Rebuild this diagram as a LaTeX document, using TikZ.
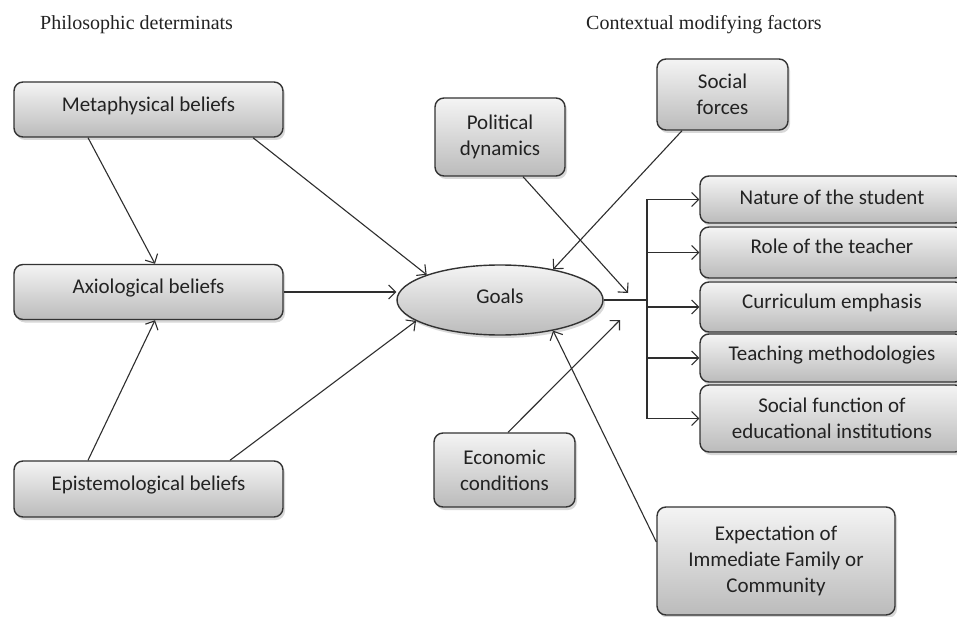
\documentclass[tikz,border=0pt]{standalone}
\usepackage{fontspec}
\setmainfont{Carlito}
\newfontfamily\hdrfont{Liberation Serif}
\usetikzlibrary{shapes.geometric,shadows,arrows.meta}
\definecolor{boxline}{HTML}{333333}
\definecolor{boxtop}{HTML}{F4F4F4}
\definecolor{boxbot}{HTML}{BBBBBB}
\definecolor{txt}{HTML}{222222}
\definecolor{conn}{HTML}{2E2E2E}
\begin{document}
\begin{tikzpicture}[x=1pt,y=-1pt,
  box/.style={draw=boxline, line width=1.4pt, rounded corners=9pt,
    top color=boxtop, bottom color=boxbot,
    drop shadow={shadow xshift=2pt, shadow yshift=-3pt, fill=black!30},
    align=center, inner sep=2pt, text=txt,
    font=\fontsize{21}{26}\selectfont},
  goalsty/.style={ellipse, draw=boxline, line width=1.4pt,
    top color=boxtop, bottom color=boxbot,
    drop shadow={shadow xshift=2pt, shadow yshift=-3pt, fill=black!30},
    inner sep=0pt, text=txt, font=\fontsize{21}{26}\selectfont},
  hdr/.style={font=\hdrfont\fontsize{20}{24}\selectfont, text=txt, inner sep=0pt, anchor=west},
  conn/.style={draw=conn, line width=1.1pt},
  arr/.style={conn, -{Straight Barb[length=7pt,width=14pt,line width=1.1pt]}}
]
\clip (0,0) rectangle (957,617);
\fill[white] (0,0) rectangle (957,617);

% headers
\node[hdr] (h1) at (40,25) {Philosophic determinats};
\node[hdr] (h2) at (586,25) {Contextual modifying factors};

% left column
\node[box, minimum width=269pt, minimum height=55pt] (meta) at (148.5,109.5) {\raisebox{11pt}{Metaphysical beliefs}};
\node[box, minimum width=269pt, minimum height=55pt] (axio) at (148.5,292) {\raisebox{12pt}{Axiological beliefs}};
\node[box, minimum width=269pt, minimum height=56pt] (epis) at (148.5,489) {\raisebox{11pt}{Epistemological beliefs}};

% goals
\node[goalsty, minimum width=206pt, minimum height=70pt] (goals) at (500,300) {\raisebox{8pt}{Goals}};

% contextual factors
\node[box, minimum width=130pt, minimum height=78pt] (pol) at (500,137) {Political\\dynamics};
\node[box, minimum width=131pt, minimum height=71pt] (soc) at (722.5,94.5) {Social\\forces};
\node[box, minimum width=141pt, minimum height=74pt] (econ) at (504.5,470) {Economic\\conditions};
\node[box, minimum width=238pt, minimum height=108pt] (expect) at (776,561) {Expectation of\\Immediate Family or\\Community};

% right column
\node[box, minimum width=264pt, minimum height=47pt] (nat) at (832,199.5) {\raisebox{5pt}{Nature of the student}};
\node[box, minimum width=264pt, minimum height=51pt] (role) at (832,252.5) {\raisebox{12pt}{Role of the teacher}};
\node[box, minimum width=264pt, minimum height=50pt] (curr) at (832,307) {\raisebox{12pt}{Curriculum emphasis}};
\node[box, minimum width=264pt, minimum height=48pt] (teach) at (832,358) {\raisebox{10pt}{Teaching methodologies}};
\node[box, minimum width=264pt, minimum height=67pt] (sfun) at (832,418.5) {Social function of\\educational institutions};

% junction points
\coordinate (jp) at (628,293);
\coordinate (je) at (620,320);
\coordinate (br) at (647,300);

% philosophic connectors
\draw[arr] ([xshift=-60.5pt]meta.south) -- ([xshift=6.5pt]axio.north);
\draw[arr] ([xshift=-60.5pt]epis.north) -- ([xshift=6.5pt]axio.south);
\draw[arr] ([xshift=104.5pt]meta.south) -- (goals.161);
\draw[arr] (axio.east) -- (axio.east -| goals.west);
\draw[arr] ([xshift=81.5pt]epis.north) -- (goals.194);

% contextual connectors
\draw[arr] ([xshift=23pt]pol.south) -- (jp);
\draw[arr] ([xshift=-40.5pt]soc.south) -- (goals.30);
\draw[arr] ([xshift=3.5pt]econ.north) -- (je);
\draw[arr] ([yshift=19pt]expect.west) -- (goals.-30);

% branch to outcomes
\draw[conn] (goals.east) -- (br);
\draw[conn] (br |- nat.west) -- (br |- sfun.west);
\draw[arr] (br |- nat.west) -- (nat.west);
\draw[arr] (br |- role.west) -- (role.west);
\draw[arr] (br |- curr.west) -- (curr.west);
\draw[arr] (br |- teach.west) -- (teach.west);
\draw[arr] (br |- sfun.west) -- (sfun.west);
\end{tikzpicture}
\end{document}
